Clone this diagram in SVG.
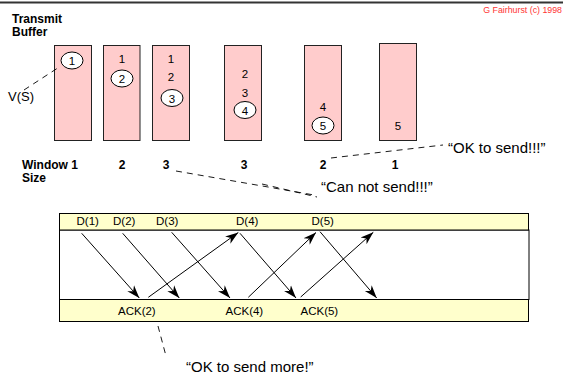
<svg xmlns="http://www.w3.org/2000/svg" width="563" height="379" viewBox="0 0 563 379">
  <style>
    text { font-family: "Liberation Sans", Arial, sans-serif; fill: #000; }
    .bold { font-weight: bold; font-size: 12px; }
    .num { font-size: 11.5px; text-anchor: middle; }
    .lbl { font-size: 11.5px; }
    .note { font-size: 15px; }
    .copy { font-size: 8.8px; fill: #ff3333; text-anchor: end; }
    .buf { fill: #ffcccc; stroke: #222; stroke-width: 1; }
    .ring { fill: #fff; stroke: #000; stroke-width: 1; }
    .band { fill: #ffffcc; stroke: #000; stroke-width: 1; }
    .dash { stroke: #000; stroke-width: 0.9; stroke-dasharray: 6 5; fill: none; }
    .arrow { stroke: #000; stroke-width: 1; fill: none; marker-end: url(#head); }
  </style>
  <defs>
    <marker id="head" markerUnits="userSpaceOnUse" markerWidth="15" markerHeight="11" refX="13" refY="5.5" orient="auto">
      <path d="M0,1 L13,5.5 L0,10 L3.8,5.5 Z" fill="#000"/>
    </marker>
  </defs>

  <rect width="563" height="379" fill="#fff"/>
  <line x1="0" y1="2.5" x2="563" y2="2.5" stroke="#333" stroke-width="2"/>
  <text class="copy" x="562" y="13">G Fairhurst (c) 1998</text>

  <g id="title">
    <text class="bold" x="12" y="23">Transmit</text>
    <text class="bold" x="12" y="36">Buffer</text>
  </g>

  <!-- transmit buffer snapshots -->
  <g id="buffer1">
    <rect class="buf" x="54.5" y="45.5" width="37" height="95"/>
    <ellipse class="ring" cx="72" cy="60.5" rx="11" ry="8.5"/>
    <text class="num" x="72" y="65">1</text>
  </g>
  <g id="buffer2">
    <rect class="buf" x="103.5" y="45.5" width="36.5" height="95"/>
    <text class="num" x="122" y="63">1</text>
    <ellipse class="ring" cx="122" cy="78.5" rx="11" ry="8.5"/>
    <text class="num" x="122" y="83">2</text>
  </g>
  <g id="buffer3">
    <rect class="buf" x="152.5" y="45.5" width="37" height="95"/>
    <text class="num" x="171" y="63">1</text>
    <text class="num" x="171" y="81">2</text>
    <ellipse class="ring" cx="172" cy="98" rx="11" ry="8.5"/>
    <text class="num" x="172" y="102.5">3</text>
  </g>
  <g id="buffer4">
    <rect class="buf" x="224.5" y="45.5" width="37" height="95"/>
    <text class="num" x="245" y="78">2</text>
    <text class="num" x="245" y="96.5">3</text>
    <ellipse class="ring" cx="245" cy="110" rx="11" ry="8.5"/>
    <text class="num" x="245" y="114.5">4</text>
  </g>
  <g id="buffer5">
    <rect class="buf" x="304.5" y="45.5" width="37" height="95"/>
    <text class="num" x="323" y="111">4</text>
    <ellipse class="ring" cx="323" cy="125.5" rx="11" ry="8.5"/>
    <text class="num" x="323" y="130">5</text>
  </g>
  <g id="buffer6">
    <rect class="buf" x="379.5" y="43.5" width="37" height="97"/>
    <text class="num" x="398" y="129.5">5</text>
  </g>

  <g id="vs">
    <text class="lbl" x="8" y="101" style="font-size:13px">V(S)</text>
  </g>

  <g id="window">
    <text class="bold" x="22" y="169">Window 1</text>
    <text class="bold" x="22" y="182">Size</text>
    <text class="bold" x="122" y="169" text-anchor="middle">2</text>
    <text class="bold" x="166" y="169" text-anchor="middle">3</text>
    <text class="bold" x="244" y="169" text-anchor="middle">3</text>
    <text class="bold" x="323" y="169" text-anchor="middle">2</text>
    <text class="bold" x="395" y="169" text-anchor="middle">1</text>
  </g>

  <g id="notes">
    <text class="note" x="448" y="153">“OK to send!!!”</text>
    <text class="note" x="321" y="192">“Can not send!!!”</text>
    <text class="note" x="186" y="372">“OK to send more!”</text>
  </g>

  <!-- sender / receiver timeline -->
  <g id="channel">
    <rect x="59.5" y="230" width="469.5" height="69.5" fill="#fff" stroke="#000" stroke-width="1"/>
    <rect class="band" x="59.5" y="213.5" width="469" height="16.5"/>
    <rect class="band" x="59.5" y="299.5" width="469" height="22"/>
    <text class="lbl" x="76.5" y="225">D(1)</text>
    <text class="lbl" x="113" y="225">D(2)</text>
    <text class="lbl" x="156" y="225">D(3)</text>
    <text class="lbl" x="236" y="225">D(4)</text>
    <text class="lbl" x="311.5" y="225">D(5)</text>
    <text class="lbl" x="118" y="315">ACK(2)</text>
    <text class="lbl" x="225.5" y="315">ACK(4)</text>
    <text class="lbl" x="300.5" y="315">ACK(5)</text>
  </g>

  <g id="connectors">
    <line class="arrow" x1="81.7" y1="233.3" x2="139.3" y2="298"/>
    <line class="arrow" x1="122.7" y1="233.3" x2="179.3" y2="298"/>
    <line class="arrow" x1="171.7" y1="232.3" x2="230" y2="298"/>
    <line class="arrow" x1="240" y1="233.3" x2="296" y2="298"/>
    <line class="arrow" x1="320" y1="231.7" x2="376.7" y2="298"/>
    <line class="arrow" x1="148.3" y1="297.3" x2="238.3" y2="232.5"/>
    <line class="arrow" x1="248.3" y1="297.3" x2="316" y2="232.5"/>
    <line class="arrow" x1="300.7" y1="297" x2="373.3" y2="232.3"/>

    <line class="dash" x1="24" y1="90" x2="57" y2="68.5"/>
    <line class="dash" x1="331" y1="158" x2="443" y2="145"/>
    <line class="dash" x1="176" y1="171" x2="314" y2="195"/>
    <line class="dash" x1="262" y1="184" x2="317" y2="197"/>
    <line class="dash" x1="158" y1="326" x2="166" y2="356"/>
  </g>
</svg>
